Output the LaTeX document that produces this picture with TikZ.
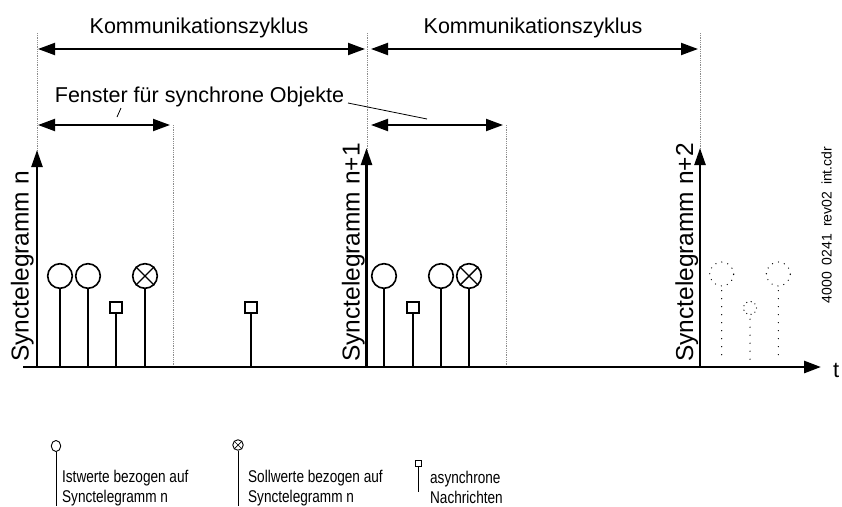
\documentclass[tikz,border=0pt]{standalone}
\usepackage{fontspec}
\setmainfont{Liberation Sans}
\usetikzlibrary{arrows.meta,calc,shapes.geometric}

\begin{document}
\begin{tikzpicture}[x=1pt,y=-1pt,
  guide/.style={draw=black!45, line width=0.7pt, dash pattern=on 0.7pt off 1.1pt},
  spanarrow/.style={line width=2pt,
    {Triangle[length=17pt,width=12pt]}-{Triangle[length=17pt,width=12pt]}},
  axisline/.style={line width=2.4pt, -{Triangle[length=17pt,width=11pt]}},
  stem/.style={line width=1.6pt},
  ist/.style={draw, circle, line width=1.6pt, minimum size=24.6pt, inner sep=0pt},
  soll/.style={ist},
  asyn/.style={draw, rectangle, line width=1.6pt, minimum size=11.5pt, inner sep=0pt},
  future/.style={draw, circle, line width=1.3pt, line cap=round,
    dash pattern=on 0pt off 6.2pt, inner sep=0pt},
  futurestem/.style={line width=1.3pt, line cap=round, dash pattern=on 0pt off 8pt},
  bigtext/.style={font=\fontsize{21.5}{24}\selectfont, inner sep=0pt},
  synclabel/.style={font=\fontsize{24.5}{27}\selectfont, rotate=90,
    anchor=base west, inner sep=0pt},
  legtext/.style={font=\fontsize{17}{19}\selectfont, xscale=0.8,
    anchor=base west, inner sep=0pt},
  leg/.style={draw, line width=0.9pt},
]
\useasboundingbox (0,0) rectangle (842,506);

% ---- guide lines (cycle and window boundaries)
\draw[guide] (37,33) -- (37,367);
\draw[guide] (173,125) -- (173,365);
\draw[guide] (367,33) -- (367,367);
\draw[guide] (506,125) -- (506,365);
\draw[guide] (700,33) -- (700,367);

% ---- communication cycles
\coordinate (k1a) at (38,49);  \coordinate (k1b) at (365,49);
\coordinate (k2a) at (371,49); \coordinate (k2b) at (698,49);
\draw[spanarrow] (k1a) -- (k1b);
\draw[spanarrow] (k2a) -- (k2b);
\node[bigtext, anchor=base] (kz1) at (199,33) {Kommunikationszyklus};
\node[bigtext, anchor=base] (kz2) at (533,33) {Kommunikationszyklus};

% ---- windows for synchronous objects
\coordinate (f1a) at (38,125);  \coordinate (f1b) at (170,125);
\coordinate (f2a) at (371,125); \coordinate (f2b) at (503,125);
\draw[spanarrow] (f1a) -- (f1b);
\draw[spanarrow] (f2a) -- (f2b);
\node[bigtext, anchor=base] (fen) at (199.5,102) {Fenster für synchrone Objekte};
\draw[line width=0.8pt] (121,108) -- (117,117);
\draw[line width=0.8pt] (348,103) -- (427,119);

% ---- time axis and sync telegrams
\coordinate (t0) at (23,367);
\coordinate (tend) at (821,367);
\draw[line width=2.8pt, -{Triangle[length=17pt,width=12pt]}] (t0) -- (tend);
\node[font=\fontsize{22}{24}\selectfont, anchor=base west, inner sep=0pt] (tl) at (833,377) {t};

\coordinate (s0) at (37,367);  \coordinate (s0top) at (37,150);
\coordinate (s1) at (366.5,367); \coordinate (s1top) at (366.5,148);
\coordinate (s2) at (700,367); \coordinate (s2top) at (700,148);
\draw[axisline] (s0) -- (s0top);
\draw[axisline] (s1) -- (s1top);
\draw[axisline] (s2) -- (s2top);
\node[synclabel] (sl0) at (28.5,362) {Synctelegramm n};
\node[synclabel] (sl1) at (359.5,362) {Synctelegramm n+1};
\node[synclabel] (sl2) at (693,362) {Synctelegramm n+2};

% ---- cycle n
\node[ist] (a1) at (60,276) {};
\node[ist] (a2) at (88,276) {};
\node[asyn] (a3) at (116,307.5) {};
\node[soll] (a4) at (145,276) {};
\node[asyn] (a5) at (251,307.5) {};
\draw[line width=1.4pt] (a4.45) -- (a4.225) (a4.135) -- (a4.315);
\foreach \n in {a1,a2,a3,a4,a5}
  \draw[stem] (\n.south) -- (\n.south |- t0);

% ---- cycle n+1
\node[ist] (b1) at (384,276) {};
\node[asyn] (b2) at (413,307.5) {};
\node[ist] (b3) at (441,276) {};
\node[soll] (b4) at (469,276) {};
\draw[line width=1.4pt] (b4.45) -- (b4.225) (b4.135) -- (b4.315);
\foreach \n in {b1,b2,b3,b4}
  \draw[stem] (\n.south) -- (\n.south |- t0);

% ---- cycle n+2 (pending)
\node[future, minimum size=24pt] (c1) at (721.7,274) {};
\node[future, minimum size=13pt, dash pattern=on 0pt off 4.5pt] (c2) at (750,308) {};
\node[future, minimum size=24pt] (c3) at (778.3,274) {};
\foreach \n in {c1,c2,c3}
  \draw[futurestem] ($(\n.south)+(0,4)$) -- (\n.south |- 0,362);

% ---- drawing reference
\node[font=\fontsize{14}{16}\selectfont, rotate=90, inner sep=0pt] (ref) at (826.5,225)
  {4000\hspace{7pt}0241\hspace{7pt}rev02\hspace{7pt}int.cdr};

% ---- legend
\node[leg, ellipse, minimum width=9.5pt, minimum height=11pt, inner sep=0pt] (l1) at (56,446) {};
\draw[leg] (l1.south) -- (56,506);
\node[legtext] (l1t1) at (62,482) {Istwerte bezogen auf};
\node[legtext] (l1t2) at (62,502) {Synctelegramm n};

\node[leg, circle, minimum size=10.5pt, inner sep=0pt] (l2) at (238,445) {};
\draw[line width=0.7pt] (l2.45) -- (l2.225) (l2.135) -- (l2.315);
\draw[leg] (l2.south) -- (238,506);
\node[legtext] (l2t1) at (248,482) {Sollwerte bezogen auf};
\node[legtext] (l2t2) at (248,502) {Synctelegramm n};

\node[leg, rectangle, minimum size=6pt, inner sep=0pt] (l3) at (418,463) {};
\draw[leg] (l3.south) -- (418,492);
\node[legtext] (l3t1) at (430,483) {asynchrone};
\node[legtext] (l3t2) at (430,503) {Nachrichten};
\end{tikzpicture}
\end{document}
